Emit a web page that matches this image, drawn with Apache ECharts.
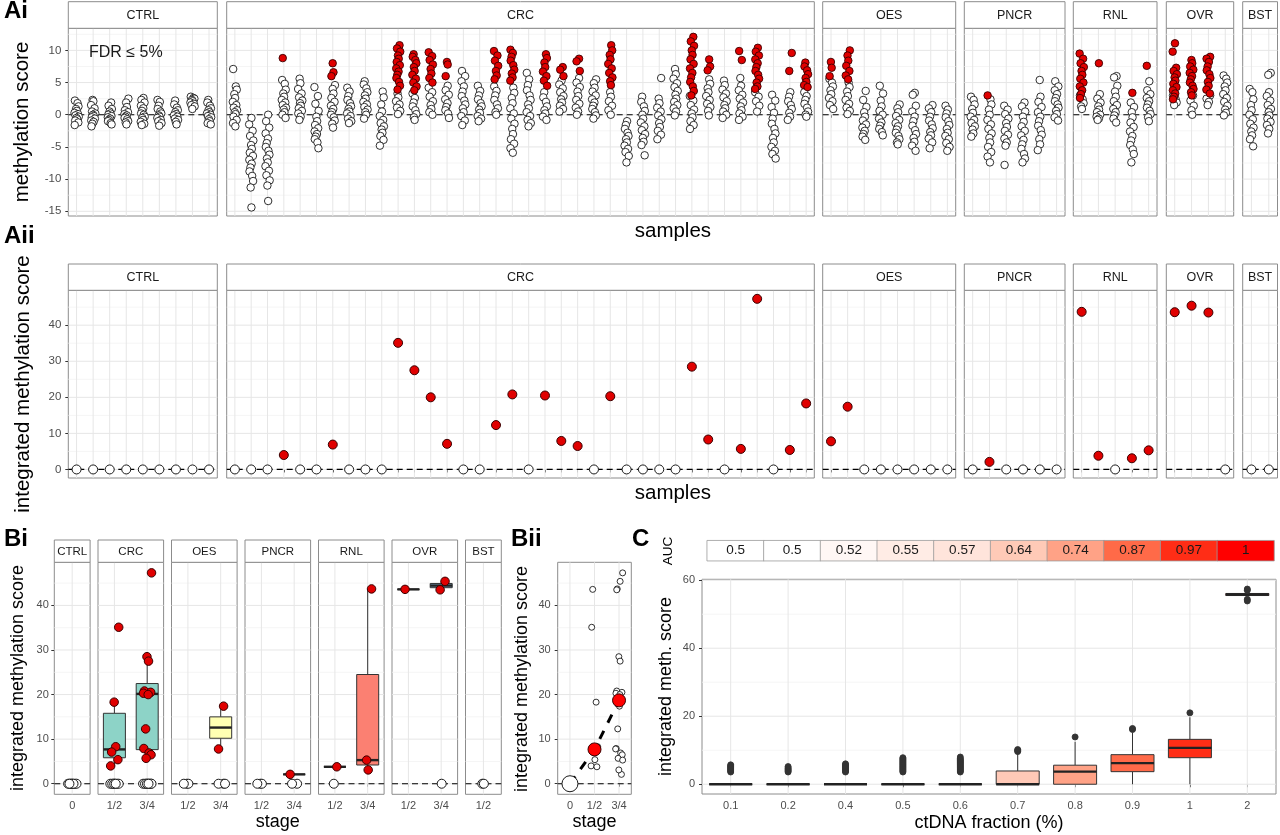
<!DOCTYPE html>
<html><head><meta charset="utf-8">
<script src="https://cdn.jsdelivr.net/npm/echarts@6.0.0/dist/echarts.min.js"></script>
<style>html,body{margin:0;padding:0;background:#fff}#c{width:1280px;height:835px}</style>
</head><body><div id="c"></div>
<script>
// ===================== DATA =====================
const facetNames = ['CTRL','CRC','OES','PNCR','RNL','OVR','BST'];

// ---- Ai: per-sample methylation scores (white = n.s., red = FDR <= 5%) ----
const ctrlWhite = [
 [2.2,1.8,1.3,0.9,0.6,0.3,0.1,-0.1,-0.3,-0.5,-0.7,-0.9,-1.2,-1.6],
 [2.3,2.1,1.5,1.0,0.5,0.2,0,-0.2,-0.4,-0.6,-0.9,-1.1,-1.4,-1.8],
 [1.9,1.4,0.9,0.5,0.2,0,-0.2,-0.4,-0.6,-0.8,-1.0,-1.3,-1.5],
 [2.5,1.9,1.2,0.7,0.4,0.1,-0.1,-0.3,-0.5,-0.7,-1.0,-1.2,-1.5],
 [2.6,2.3,1.9,1.4,1.0,0.6,0.2,0,-0.3,-0.5,-0.8,-1.1,-1.4,-1.6],
 [2.3,2.0,1.4,0.9,0.5,0.2,-0.1,-0.3,-0.5,-0.8,-1.0,-1.3,-1.7],
 [2.2,1.6,1.1,0.7,0.4,0.1,-0.1,-0.3,-0.6,-0.8,-1.1,-1.5],
 [2.8,2.6,2.5,2.3,2.1,1.9,1.7,1.5,1.3,0.9],
 [2.3,1.9,1.4,1.0,0.7,0.4,0.2,0,-0.2,-0.4,-0.7,-1.0,-1.3,-1.5]
];
const ctrlRed = [[],[],[],[],[],[],[],[],[]];
const crcWhite = [
 [7.1,4.4,3.9,3.2,2.6,2.0,1.5,1.1,0.7,0.4,0.1,-0.3,-0.8,-1.3,-1.8],
 [-0.5,-1.5,-2.5,-3.3,-4.0,-4.7,-5.3,-5.9,-6.4,-7.0,-7.6,-8.2,-8.8,-9.5,-10.3,-11.3,-14.4],
 [0,-1.0,-2.0,-2.9,-3.7,-4.4,-5.0,-5.6,-6.2,-6.8,-7.4,-8.0,-8.7,-9.4,-10.2,-11.0,-13.4],
 [5.4,4.8,3.9,3.3,2.8,2.3,1.9,1.5,1.1,0.8,0.4,0,-0.5],
 [5.6,4.9,4.0,3.3,2.7,2.2,1.8,1.4,1.0,0.6,0.2,-0.3,-0.8],
 [4.3,2.9,1.7,0.6,-0.3,-1.0,-1.6,-2.1,-2.6,-3.0,-3.4,-3.8,-4.3,-5.2],
 [4.6,4.0,3.3,2.6,2.0,1.4,0.9,0.4,0,-0.4,-0.9,-1.4,-2.0],
 [4.2,3.6,2.9,2.3,1.8,1.3,0.9,0.5,0.2,-0.2,-0.6,-1.0,-1.3],
 [5.2,4.7,4.1,3.5,3.0,2.5,2.0,1.6,1.2,0.8,0.4,0,-0.6],
 [3.6,2.7,1.6,0.5,-0.2,-0.8,-1.3,-1.8,-2.3,-2.8,-3.3,-3.9,-4.8],
 [3.3,2.7,2.1,1.6,1.1,0.6,0.1],
 [3.3,2.6,1.9,1.3,0.7,0.1,-0.4,-0.8],
 [4.2,3.5,2.8,2.1,1.5,0.9,0.4,0],
 [4.5,3.8,3.1,2.4,1.8,1.2,0.7,0.2,-0.5],
 [6.8,6.0,5.2,4.4,3.6,2.9,2.2,1.6,1.0,0.4,-0.2,-0.9,-1.6],
 [4.5,3.7,3.0,2.4,1.8,1.3,0.8,0.3,-0.2,-0.6,-1.0],
 [4.4,3.7,3.0,2.3,1.6,1.0,0.4,0],
 [4.2,3.4,2.6,1.8,1.0,0.2,-0.6,-1.4,-2.2,-3.0,-3.8,-4.5,-5.2,-5.9],
 [6.5,5.5,4.6,3.8,3.0,2.3,1.6,1.0,0.4,-0.2,-0.8,-1.3,-1.8],
 [3.5,2.7,2.0,1.3,0.7,0.2,-0.3,-0.8],
 [5.3,4.7,4.1,3.5,2.9,2.4,1.9,1.4,0.9,0.5],
 [5.7,5.0,4.3,3.6,2.9,2.3,1.7,1.1,0.5,0],
 [5.5,4.9,4.2,3.6,3.0,2.4,1.9,1.4,0.9,0.4,-0.1,-0.6],
 [3.5,2.8,2.1,1.4,0.7,0],
 [-1.0,-1.6,-2.2,-2.8,-3.3,-3.8,-4.3,-4.8,-5.3,-5.8,-6.4,-7.4],
 [2.8,2.0,1.3,0.6,0,-0.6,-1.2,-1.8,-2.4,-3.0,-3.6,-4.2,-4.7,-6.3],
 [5.7,2.5,1.8,1.1,0.5,-0.1,-0.7,-1.3,-1.9,-2.5,-3.1,-3.8],
 [7.1,6.3,5.6,4.9,4.3,3.7,3.1,2.5,2.0,1.5,1.0,0.5,-0.1],
 [2.9,2.2,1.5,0.8,0.2,-0.4,-1.0,-1.6,-2.2],
 [5.5,4.8,4.1,3.5,2.9,2.3,1.7,1.2,0.6,-0.1],
 [5.3,4.6,3.9,3.3,2.7,2.1,1.5,1.0,0.5,0,-0.5],
 [5.7,4.5,3.8,3.1,2.5,1.9,1.3,0.7,0.2,-0.3,-0.8],
 [3.5,2.8,2.1,1.4,0.5],
 [3.1,2.2,1.2,0.3,-0.6,-1.4,-2.2,-2.9,-3.6,-4.3,-5.0,-5.6,-6.1,-6.8],
 [3.5,2.8,2.1,1.5,0.9,0.3,-0.3,-0.8],
 [3.5,2.9,2.3,1.7,1.1,0.5,0,-0.3]
];
const crcRed = [
 [],[],[],[8.8],[],[],[8.0,6.6,6.0],[],[],[],
 [10.8,10.3,9.8,9.2,8.7,8.2,7.7,7.2,6.7,6.2,5.7,5.1,4.5,3.9],
 [9.4,9.0,8.5,8.0,7.4,6.8,6.2,5.6,5.0,4.4,3.8],
 [9.7,9.1,8.5,7.8,7.1,6.4,5.7,5.0],
 [8.2,7.8,6.0],
 [],[],
 [9.9,9.2,8.4,7.6,6.8,6.1,5.5],
 [10.1,9.6,9.0,8.4,7.7,7.0,6.4,5.8,5.3],
 [],
 [9.4,8.8,8.1,7.4,6.7,6.0,5.3,4.5],
 [7.4,7.0,6.0],
 [8.7,8.3,6.8],
 [],
 [10.8,10.0,9.3,8.6,7.9,7.2,6.5,5.8,5.2,4.6],
 [],[],[],[],
 [12.1,11.4,10.7,10.0,9.3,8.6,7.9,7.2,6.5,5.8,5.1,4.4,3.7,3.0],
 [8.6,7.5,6.9],
 [],
 [9.9,8.5],
 [10.4,9.8,9.2,8.6,8.0,7.4,6.8,6.2,5.6,5.0,4.4,4.0],
 [],
 [9.6,6.8],
 [8.1,7.5,6.9,6.3,5.7,5.1,4.6,4.3]
];
const oesWhite = [
 [5.6,5.0,4.4,3.8,3.2,2.6,2.1,1.5,0.9],
 [5.0,4.3,3.6,2.9,2.3,1.7,1.1,0.6,0.1],
 [3.7,2.3,1.2,0.4,-0.3,-0.9,-1.5,-2.0,-2.5,-3.0,-3.4,-3.9],
 [4.5,3.3,2.2,1.3,0.6,0,-0.6,-1.2,-1.7,-2.2,-2.7,-3.2],
 [1.6,1.0,0.4,-0.2,-0.8,-1.3,-1.8,-2.3,-2.8,-3.3,-3.8,-4.3,-4.6],
 [3.4,3.1,1.4,0.5,-0.3,-1.0,-1.7,-2.4,-3.0,-3.6,-4.2,-4.8,-5.6],
 [1.5,1.0,0.4,-0.3,-0.9,-1.5,-2.1,-2.7,-3.2,-3.7,-4.3,-5.2],
 [1.4,0.8,0.2,-0.4,-1.0,-1.6,-2.2,-2.8,-3.3,-3.8,-4.4,-5.0,-5.6]
];
const oesRed = [[8.2,7.3,6.0],[10.0,9.2,8.4,7.6,6.8,6.1,5.5],[],[],[],[],[],[]];
const pncrWhite = [
 [2.8,2.3,1.6,0.9,0.3,-0.3,-0.8,-1.3,-1.8,-2.3,-2.9,-3.4],
 [2.4,1.6,0.8,0,-0.8,-1.5,-2.2,-2.9,-3.6,-4.3,-5.0,-5.8,-6.5,-7.4],
 [1.4,0.8,0.1,-0.6,-1.3,-1.9,-2.5,-3.1,-3.7,-4.3,-4.8,-7.8],
 [1.9,1.3,0.5,-0.3,-1.1,-1.8,-2.5,-3.2,-3.9,-4.6,-5.3,-6.1,-6.8,-7.4],
 [5.4,2.8,2.0,1.2,0.4,-0.3,-1.0,-1.7,-2.4,-3.1,-3.8,-4.6,-5.5],
 [5.2,4.4,3.8,3.2,2.6,2.1,1.6,1.1,0.6,0.1,-0.4,-0.9]
];
const pncrRed = [[],[3.0],[],[],[],[]];
const rnlWhite = [
 [3.0,2.4,1.8,1.3,0.9],
 [3.2,2.5,1.9,1.3,0.8,0.4,0,-0.3,-0.6,-0.8],
 [6.0,5.8,4.5,3.6,2.8,2.1,1.5,0.9,0.4,-0.1,-0.6,-1.2],
 [1.9,1.2,0.4,-0.4,-1.2,-1.9,-2.6,-3.3,-4.0,-4.7,-5.4,-6.1,-7.4],
 [5.2,3.8,3.2,2.6,2.1,1.6,1.1,0.6,0.1,-0.4,-1.0]
];
const rnlRed = [[9.5,8.7,8.0,7.4,6.8,6.2,5.6,5.0,4.4,3.8,3.2,2.6],[8.0],[],[3.4],[7.6]];
const ovrWhite = [
 [3.0,2.4,1.9,1.5],
 [3.0,2.2,1.4,0.7,0],
 [3.0,2.5,2.0,1.5],
 [6.1,5.6,5.0,4.4,3.8,3.2,2.6,2.0,1.4,0.8,0.3,-0.1]
];
const ovrRed = [
 [11.1,9.8,7.3,6.8,6.3,5.8,5.3,4.8,4.3,3.8,3.3,2.8,2.4],
 [8.5,8.0,7.5,7.0,6.5,6.0,5.5,5.0,4.5,4.0,3.5,3.0],
 [9.0,8.7,8.2,7.5,6.9,6.3,5.7,5.1,4.5,3.9,3.3],
 []
];
const bstWhite = [
 [4.0,3.5,2.4,1.5,0.7,0,-0.7,-1.4,-2.0,-2.6,-3.2,-3.8,-4.9],
 [6.5,6.2,3.5,2.9,2.2,1.5,0.9,0.4,-0.1,-0.6,-1.1,-1.6,-2.2,-2.9]
];
const bstRed = [[],[]];
const aiYTicks = [-15,-10,-5,0,5,10];
const aiYMinor = [-12.5,-7.5,-2.5,2.5,7.5,12.5];

// ---- Aii: integrated methylation score per sample ----
const ctrlIntegrated = [0,0,0,0,0,0,0,0,0];
const crcIntegrated = [0,0,0,4.0,0,0,6.9,0,0,0,35.1,27.5,20.0,7.1,0,0,12.3,20.8,0,20.5,7.9,6.5,0,20.3,0,0,0,0,28.5,8.3,0,5.7,47.3,0,5.4,18.3];
const oesIntegrated = [7.8,17.4,0,0,0,0,0,0];
const pncrIntegrated = [0,2.1,0,0,0,0];
const rnlIntegrated = [43.7,3.8,0,3.1,5.3];
const ovrIntegrated = [43.6,45.4,43.5,0];
const bstIntegrated = [0,0];
const intYTicks = [0,10,20,30,40];
const intYMinor = [5,15,25,35,45];

// ---- Bi: integrated score by stage ----
const biStages = [['0'],['1/2','3/4'],['1/2','3/4'],['1/2','3/4'],['1/2','3/4'],['1/2','3/4'],['1/2']];
const biPositive = [
 [[]],
 [[35.1,18.3,8.3,7.1,5.4,4.0],[47.3,28.5,27.5,20.8,20.5,20.3,20.0,12.3,7.9,6.9,6.5,5.7]],
 [[],[17.4,7.8]],
 [[],[2.1]],
 [[3.8],[43.7,5.3,3.1]],
 [[43.6],[45.4,43.5]],
 [[]]
];
const biZeroCounts = [[9],[8,10],[3,3],[3,2],[1,0],[0,1],[2]];

// ---- Bii ----
const biiStages = ['0','1/2','3/4'];

// ---- C: spike-in dilution ----
const cFractions = ['0.1','0.2','0.4','0.5','0.6','0.7','0.8','0.9','1','2'];
const cAuc = [0.5,0.5,0.52,0.55,0.57,0.64,0.74,0.87,0.97,1];
const cWhiskerLow = [0,0,0,0,0,0,0,0,0,55.2];
const cQ1 = [0,0,0,0,0,0,0,3.7,7.8,55.5];
const cMedian = [0,0,0,0,0,0,3.7,6.2,10.7,55.8];
const cQ3 = [0,0,0,0,0,3.9,5.6,8.7,13.2,56.1];
const cWhiskerHigh = [0,0,0,0,0,9.3,12.5,15.2,19.7,56.4];
const cOutliers = [
 [3.6,3.9,4.2,4.5,4.8,5.1,5.4,5.7],
 [3.6,3.9,4.2,4.5,4.8,5.2],
 [3.6,3.9,4.2,4.5,4.8,5.1,5.4,5.7,6.0],
 [3.6,3.9,4.2,4.5,4.8,5.1,5.4,5.7,6.0,6.3,6.6,6.9,7.2,7.5,7.8],
 [3.6,3.9,4.2,4.5,4.8,5.1,5.4,5.7,6.0,6.3,6.6,6.9,7.2,7.5,8.0],
 [9.6,9.9,10.2],
 [13.9],
 [16.1,16.4],
 [21.0],
 [57.4,57.0,54.4,53.9]
];
const cYTicks = [0,20,40,60];
const cYMinor = [10,30,50];

// ===================== STYLE / LAYOUT =====================
const FONT = "'Liberation Sans', Arial, Helvetica, sans-serif";
const GRID_MAJOR = '#e6e6e6', GRID_MINOR = '#f3f3f3', BORDER = '#8c8c8c', TICK_TXT = '#4d4d4d';
const RED = '#e00000', RED_EDGE = '#3a0000';
const boxFill = [null,'#8DD3C7','#FFFFB3','#BEBADA','#FB8072','#80B1D3',null];
const JIT = [-2.8,1.6,3.2,-0.9,0.4,-3.4,2.4,-1.8,3.6,-0.2,1.1,-2.3,2.9,-3.1,0.8,-1.3];
const aLefts = [68.3,226.7,822.7,964.3,1073.3,1166.3,1242.7];
const aRights = [217.3,814.3,955.7,1065,1157,1233.7,1277.5];
const biLefts = [54.3,98.0,171.5,245.0,318.5,392.0,465.5];
const biWidths = [35.8,65.6,65.6,65.6,65.6,65.6,35.8];

// ===================== HELPERS =====================
const grids=[], xAxes=[], yAxes=[], series=[], graphics=[];

function text(x, y, s, size, o) {
  o = o || {};
  graphics.push({
    type:'text', x:x, y:y, rotation:o.rot||0, silent:true, z:100,
    style:{text:s, fill:o.color||'#000', fontSize:size, fontFamily:FONT, fontWeight:o.weight||'normal',
      align:o.align||'center', verticalAlign:'middle', textAlign:o.align||'center', textVerticalAlign:'middle'}
  });
}
function strip(x, y, w, h, label, size) {
  graphics.push({type:'rect', silent:true, z:90, shape:{x:x, y:y, width:w, height:h},
    style:{fill:'#ffffff', stroke:BORDER, lineWidth:1}});
  text(x + w/2, y + h/2 + 0.5, label, size, {color:'#1a1a1a'});
}
function panel(c) {
  const gi = grids.length;
  grids.push({left:c.x, top:c.y, width:c.w, height:c.h, show:true, borderColor:BORDER, borderWidth:1,
    backgroundColor:'#fff', containLabel:false, outerBoundsMode:'none'});
  xAxes.push({type:'category', gridIndex:gi, data:c.cats, boundaryGap:true,
    axisLine:{show:false},
    axisTick:{show:true, alignWithLabel:true, interval:0, length:3, lineStyle:{color:'#333', width:1}},
    axisLabel:{show:!!c.xLabels, interval:0, margin:c.xMargin||6, color:TICK_TXT, fontSize:c.xFont||11, fontFamily:FONT},
    splitLine:{show:false}});
  yAxes.push({type:'value', gridIndex:gi, min:c.yMin, max:c.yMax,
    axisLine:{show:false},
    axisTick:{show:!!c.yLabels, length:3, customValues:c.yMajor, lineStyle:{color:'#333', width:1}},
    axisLabel:{show:!!c.yLabels, customValues:c.yMajor, margin:c.yMargin||7, color:TICK_TXT, fontSize:c.yFont||11, fontFamily:FONT},
    splitLine:{show:false}, minorSplitLine:{show:false}});
  const nCat = c.cats.length;
  series.push({type:'custom', xAxisIndex:gi, yAxisIndex:gi, z:1, silent:true, data:[[0, c.yMin]],
    renderItem:function(params, api){
      const cs = params.coordSys, ch = [];
      const L = cs.x, T = cs.y, W = cs.width, H = cs.height;
      (c.yMinor||[]).forEach(function(v){ const py = api.coord([0, v])[1];
        if (py > T && py < T+H) ch.push({type:'line', shape:{x1:L, y1:py, x2:L+W, y2:py}, style:{stroke:GRID_MINOR, lineWidth:0.8}}); });
      c.yMajor.forEach(function(v){ const py = api.coord([0, v])[1];
        ch.push({type:'line', shape:{x1:L, y1:py, x2:L+W, y2:py}, style:{stroke:GRID_MAJOR, lineWidth:1}}); });
      for (let i = 0; i < nCat; i++) { const px = api.coord([i, c.yMin])[0];
        ch.push({type:'line', shape:{x1:px, y1:T, x2:px, y2:T+H}, style:{stroke:GRID_MAJOR, lineWidth:1}}); }
      if (c.zero) { const py = api.coord([0, 0])[1];
        ch.push({type:'line', shape:{x1:L, y1:py, x2:L+W, y2:py}, style:{stroke:'#000', lineWidth:1.2, lineDash:[6,4]}}); }
      return {type:'group', children:ch};
    }});
  if (c.strip) strip(c.x, c.y - c.stripH, c.w, c.stripH, c.strip, c.stripFont || 12);
  return gi;
}
function scatter(gi, data, size, fill, stroke, z, bw) {
  series.push({type:'scatter', xAxisIndex:gi, yAxisIndex:gi, data:data, symbol:'circle', symbolSize:size,
    itemStyle:{color:fill, borderColor:stroke, borderWidth:bw||0.9, opacity:1}, z:z||3, silent:true});
}
function boxes(gi, items, boxW, fills) {
  series.push({type:'custom', xAxisIndex:gi, yAxisIndex:gi, z:2, silent:true, data:items,
    encode:{x:0, y:[1,2,3,4,5]},
    renderItem:function(params, api){
      const x = api.value(0);
      const P = function(k){ return api.coord([x, api.value(k)]); };
      const pl = P(1), p1 = P(2), pm = P(3), p3 = P(4), ph = P(5), cx = pm[0];
      const ln = {stroke:'#333', lineWidth:1};
      return {type:'group', children:[
        {type:'line', shape:{x1:cx, y1:p3[1], x2:cx, y2:ph[1]}, style:ln},
        {type:'line', shape:{x1:cx, y1:p1[1], x2:cx, y2:pl[1]}, style:ln},
        {type:'rect', shape:{x:cx-boxW/2, y:p3[1], width:boxW, height:p1[1]-p3[1]}, style:{fill:fills[params.dataIndex]||'#fff', stroke:'#333', lineWidth:1}},
        {type:'line', shape:{x1:cx-boxW/2, y1:pm[1], x2:cx+boxW/2, y2:pm[1]}, style:{stroke:'#222', lineWidth:2.4}}
      ]};
    }});
}
function quant(s, p) { const h = (s.length-1)*p, lo = Math.floor(h), hi = Math.ceil(h); return s[lo] + (h-lo)*(s[hi]-s[lo]); }
function boxStats(vals) {
  const s = vals.slice().sort(function(a,b){return a-b;});
  const q1 = quant(s,0.25), md = quant(s,0.5), q3 = quant(s,0.75), iqr = q3-q1;
  const inside = s.filter(function(v){ return v >= q1-1.5*iqr && v <= q3+1.5*iqr; });
  return [inside[0], q1, md, q3, inside[inside.length-1]];
}
function median(vals) { const s = vals.slice().sort(function(a,b){return a-b;}); return quant(s, 0.5); }

// Lab interpolation white -> red (as ggplot gradient)
function toLin(c){ c/=255; return c<=0.04045 ? c/12.92 : Math.pow((c+0.055)/1.055, 2.4); }
function toS(c){ const v = c<=0.0031308 ? 12.92*c : 1.055*Math.pow(c,1/2.4)-0.055; return Math.round(Math.max(0,Math.min(1,v))*255); }
function rgb2lab(r,g,b){ r=toLin(r); g=toLin(g); b=toLin(b);
  const X=(0.4124564*r+0.3575761*g+0.1804375*b)/0.95047, Y=0.2126729*r+0.7151522*g+0.0721750*b, Z=(0.0193339*r+0.1191920*g+0.9503041*b)/1.08883;
  const f=function(t){ return t>0.008856 ? Math.cbrt(t) : 7.787*t+16/116; };
  return [116*f(Y)-16, 500*(f(X)-f(Y)), 200*(f(Y)-f(Z))]; }
function lab2rgb(L,a,b){ const fy=(L+16)/116, fx=fy+a/500, fz=fy-b/200;
  const fi=function(t){ const t3=t*t*t; return t3>0.008856 ? t3 : (t-16/116)/7.787; };
  const X=fi(fx)*0.95047, Y=fi(fy), Z=fi(fz)*1.08883;
  return 'rgb('+toS(3.2404542*X-1.5371385*Y-0.4985314*Z)+','+toS(-0.9692660*X+1.8760108*Y+0.0415560*Z)+','+toS(0.0556434*X-0.2040259*Y+1.0572252*Z)+')'; }
const LAB_LO = rgb2lab(255,255,255), LAB_HI = rgb2lab(255,0,0);
function aucColor(v){ const t=(v-0.5)/0.5; return lab2rgb(LAB_LO[0]+(LAB_HI[0]-LAB_LO[0])*t, LAB_LO[1]+(LAB_HI[1]-LAB_LO[1])*t, LAB_LO[2]+(LAB_HI[2]-LAB_LO[2])*t); }

// ===================== Ai =====================
const aiWhite = [ctrlWhite, crcWhite, oesWhite, pncrWhite, rnlWhite, ovrWhite, bstWhite];
const aiRed = [ctrlRed, crcRed, oesRed, pncrRed, rnlRed, ovrRed, bstRed];
facetNames.forEach(function(name, f){
  const n = aiWhite[f].length;
  const cats = aiWhite[f].map(function(_, j){ return name + (j+1); });
  const gi = panel({x:aLefts[f], y:28.3, w:aRights[f]-aLefts[f], h:187.7, cats:cats,
    yMin:-15.73, yMax:13.43, yMajor:aiYTicks, yMinor:aiYMinor, yLabels:f===0, yFont:11.5, yMargin:7,
    zero:true, strip:name, stripH:26.6, stripFont:12.5});
  const w = [], r = [];
  let k = 0;
  for (let j = 0; j < n; j++) {
    aiWhite[f][j].forEach(function(v){ w.push({value:[j, v], symbolOffset:[JIT[(k++ + j*5) % JIT.length]*0.6, 0]}); });
    aiRed[f][j].forEach(function(v){ r.push({value:[j, v], symbolOffset:[JIT[(k++ + j*3) % JIT.length]*0.6, 0]}); });
  }
  scatter(gi, w, 7.5, '#ffffff', '#1a1a1a', 3, 0.9);
  scatter(gi, r, 7.5, RED, RED_EDGE, 4, 0.9);
});
text(89, 52.5, 'FDR \u2264 5%', 16, {align:'left', color:'#1a1a1a'});
text(22, 122, 'methylation score', 20.5, {rot:Math.PI/2});
text(672.9, 231, 'samples', 20.5);
text(4, 11.5, 'Ai', 24, {weight:'bold', align:'left'});

// ===================== Aii =====================
const aiiVals = [ctrlIntegrated, crcIntegrated, oesIntegrated, pncrIntegrated, rnlIntegrated, ovrIntegrated, bstIntegrated];
facetNames.forEach(function(name, f){
  const cats = aiiVals[f].map(function(_, j){ return name + (j+1); });
  const gi = panel({x:aLefts[f], y:290.3, w:aRights[f]-aLefts[f], h:187.7, cats:cats,
    yMin:-2.37, yMax:49.67, yMajor:intYTicks, yMinor:intYMinor, yLabels:f===0, yFont:11.5, yMargin:7,
    zero:true, strip:name, stripH:26.3, stripFont:12.5});
  const w = [], r = [];
  aiiVals[f].forEach(function(v, j){ (v > 0 ? r : w).push([j, v]); });
  scatter(gi, w, 9, '#ffffff', '#1a1a1a', 3, 1);
  scatter(gi, r, 9, RED, RED_EDGE, 4, 1);
});
text(23, 384, 'integrated methylation score', 20.5, {rot:Math.PI/2});
text(672.9, 493, 'samples', 20.5);
text(4, 236.5, 'Aii', 24, {weight:'bold', align:'left'});

// ===================== Bi =====================
facetNames.forEach(function(name, f){
  const gi = panel({x:biLefts[f], y:562.3, w:biWidths[f], h:232, cats:biStages[f],
    yMin:-2.37, yMax:49.67, yMajor:intYTicks, yMinor:intYMinor, yLabels:f===0, yFont:11, yMargin:5.5,
    xLabels:true, xFont:11, xMargin:6, zero:true, strip:name, stripH:22.3, stripFont:11.5});
  const items = [], fills = [];
  biPositive[f].forEach(function(vals, s){
    if (vals.length) { items.push([s].concat(boxStats(vals))); fills.push(boxFill[f]); }
  });
  if (items.length) boxes(gi, items, 22, fills);
  const w = [], r = [];
  let k = 0;
  biPositive[f].forEach(function(vals, s){
    for (let z = 0; z < biZeroCounts[f][s]; z++) w.push({value:[s, 0], symbolOffset:[JIT[(k++ + 3) % JIT.length]*1.2, 0]});
    vals.forEach(function(v){ r.push({value:[s, v], symbolOffset:[JIT[(k++) % JIT.length]*1.2, 0]}); });
  });
  scatter(gi, w, 9, '#ffffff', '#1a1a1a', 3, 1);
  scatter(gi, r, 8.5, RED, RED_EDGE, 4, 1);
});
text(18, 678, 'integrated methylation score', 18, {rot:Math.PI/2});
text(277.8, 822, 'stage', 18);
text(4, 539.5, 'Bi', 24, {weight:'bold', align:'left'});

// ===================== Bii =====================
(function(){
  const gi = panel({x:557.7, y:562.3, w:73.6, h:232, cats:biiStages,
    yMin:-2.37, yMax:49.67, yMajor:intYTicks, yMinor:intYMinor, yLabels:true, yFont:11, yMargin:7,
    xLabels:true, xFont:11, xMargin:6, zero:true});
  const st12 = [], st34 = [];
  biPositive.forEach(function(fac, f){
    fac.forEach(function(vals, s){
      if (biStages[f][s] === '1/2') vals.forEach(function(v){ st12.push(v); });
      if (biStages[f][s] === '3/4') vals.forEach(function(v){ st34.push(v); });
    });
  });
  const pts = []; let k = 0;
  st12.forEach(function(v){ pts.push({value:[1, v], symbolOffset:[JIT[(k++) % JIT.length]*1.0, 0]}); });
  st34.forEach(function(v){ pts.push({value:[2, v], symbolOffset:[JIT[(k++) % JIT.length]*1.0, 0]}); });
  scatter(gi, pts, 6, '#ffffff', '#1a1a1a', 3, 0.9);
  const meds = [[0, median(ctrlIntegrated)], [1, median(st12)], [2, median(st34)]];
  series.push({type:'line', xAxisIndex:gi, yAxisIndex:gi, data:meds, symbol:'none', silent:true, z:4,
    lineStyle:{color:'#000', width:3, type:[9,9]}});
  scatter(gi, [meds[0]], 16, '#ffffff', '#1a1a1a', 5, 1);
  scatter(gi, [meds[1], meds[2]], 13, '#ff0000', RED_EDGE, 5, 1);
})();
text(522, 679, 'integrated methylation score', 18, {rot:Math.PI/2});
text(594.5, 822, 'stage', 18);
text(511, 539.5, 'Bii', 24, {weight:'bold', align:'left'});

// ===================== C =====================
(function(){
  const gi = panel({x:702, y:579.3, w:574, h:214.7, cats:cFractions,
    yMin:-2.87, yMax:60.27, yMajor:cYTicks, yMinor:cYMinor, yLabels:true, yFont:11, yMargin:7,
    xLabels:true, xFont:11, xMargin:6.5, zero:false});
  const items = cFractions.map(function(_, i){ return [i, cWhiskerLow[i], cQ1[i], cMedian[i], cQ3[i], cWhiskerHigh[i]]; });
  boxes(gi, items, 43, cAuc.map(aucColor));
  const out = [];
  cOutliers.forEach(function(vals, i){ vals.forEach(function(v){ out.push([i, v]); }); });
  scatter(gi, out, 6, '#333333', '#333333', 4, 0);

  // AUC colour bar
  const hg = grids.length;
  grids.push({left:707.2, top:540.7, width:566.8, height:20, show:false, containLabel:false, outerBoundsMode:'none'});
  xAxes.push({type:'category', gridIndex:hg, data:cFractions, show:false});
  yAxes.push({type:'category', gridIndex:hg, data:['AUC'], show:false});
  series.push({type:'heatmap', xAxisIndex:hg, yAxisIndex:hg, silent:true,
    data:cAuc.map(function(v, i){ return [i, 0, v]; }),
    itemStyle:{borderColor:'#9a9a9a', borderWidth:0.8},
    label:{show:true, color:'#1a1a1a', fontSize:13.5, fontFamily:FONT,
      formatter:function(p){ return String(cAuc[p.value[0]]); }}});
})();
const heatIdx = series.length - 1;
const stops = [];
for (let i = 0; i <= 20; i++) stops.push(aucColor(0.5 + i*0.025));
text(668, 551, 'AUC', 13.5, {rot:Math.PI/2});
text(666, 686.5, 'integrated meth. score', 18, {rot:Math.PI/2});
text(989, 823, 'ctDNA fraction (%)', 18);
text(632, 539.5, 'C', 24, {weight:'bold', align:'left'});

// ===================== RENDER =====================
const chart = echarts.init(document.getElementById('c'), null, {renderer:'canvas', width:1280, height:835});
chart.setOption({
  animation:false,
  backgroundColor:'#ffffff',
  textStyle:{fontFamily:FONT},
  tooltip:{show:false},
  grid:grids, xAxis:xAxes, yAxis:yAxes, series:series,
  visualMap:[{type:'continuous', show:false, min:0.5, max:1, dimension:2, seriesIndex:heatIdx, inRange:{color:stops}}],
  graphic:{elements:graphics}
});
</script>
</body></html>
